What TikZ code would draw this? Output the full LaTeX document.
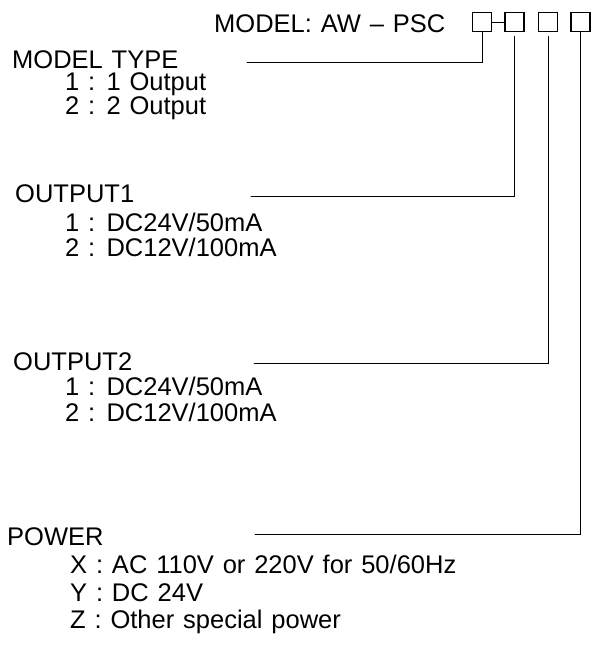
\documentclass[tikz,border=0pt]{standalone}
\usepackage{fontspec}
\setmainfont[WordSpace=1.25]{Liberation Sans}
\tikzset{
  txt/.style={anchor=base west, inner sep=0pt, font=\fontsize{25.5}{30}\selectfont},
  head/.style={txt, text depth=0pt},
  codebox/.style={draw, line width=1.2pt, minimum size=19pt, inner sep=0pt},
  lead/.style={line width=1pt}
}
\begin{document}
\begin{tikzpicture}[x=1pt, y=-1pt, line cap=round]
  \useasboundingbox (0,0) rectangle (596,647);
  \node[txt] (model) at (214,33) {MODEL: AW – PSC};
  % Code boxes.
  \node[codebox] (b1) at (482.2,22.2) {};
  \node[codebox] (b2) at (514.5,22.2) {};
  \node[codebox] (b3) at (548,22.2) {};
  \node[codebox] (b4) at (580.5,22.2) {};
  \draw[lead] (b1) -- (b2);
  % Model type.
  \node[head] (mtype) at (12,68.3) {MODEL TYPE};
  \node[txt] (mtype1) at (65,91) {1 : 1 Output};
  \node[txt] (mtype2) at (65,115) {2 : 2 Output};
  \coordinate (l1) at (247,62.7);
  \draw[lead] (l1) -| (b1.south);
  % Output 1.
  \node[head] (outa) at (15,202.7) {OUTPUT1};
  \node[txt] (outa1) at (65,231.7) {1 : DC24V/50mA};
  \node[txt] (outa2) at (65,256.7) {2 : DC12V/100mA};
  \coordinate (l2) at (251,196.7);
  \draw[lead, shorten >=4pt] (l2) -| (b2.south);
  % Output 2.
  \node[head] (outb) at (13,370) {OUTPUT2};
  \node[txt] (outb1) at (65,395) {1 : DC24V/50mA};
  \node[txt] (outb2) at (65,421.7) {2 : DC12V/100mA};
  \coordinate (l3) at (254,363.3);
  \draw[lead, shorten >=4pt] (l3) -| (b3.south);
  % Power.
  \node[head] (pwr) at (7,545.7) {POWER};
  \node[txt] (pwrx) at (70,573.3) {X : AC 110V or 220V for 50/60Hz};
  \node[txt] (pwry) at (70,601) {Y : DC 24V};
  \node[txt] (pwrz) at (70,628.3) {Z : Other special power};
  \coordinate (l4) at (255,534.3);
  \draw[lead] (l4) -| (b4.south);
\end{tikzpicture}
\end{document}
